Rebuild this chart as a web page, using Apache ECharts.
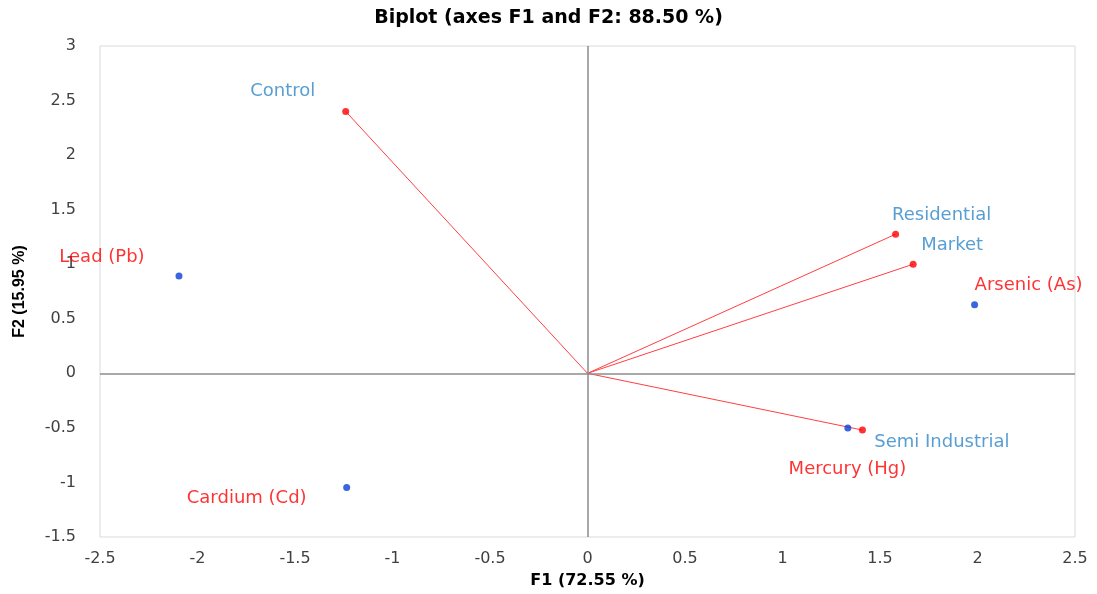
<!DOCTYPE html>
<html>
<head>
<meta charset="utf-8">
<script src="https://cdn.jsdelivr.net/npm/echarts@6/dist/echarts.min.js"></script>
<style>
  html, body { margin: 0; padding: 0; background: #fff; }
  #main { width: 1097px; height: 594px; }
</style>
</head>
<body>
<div id="main"></div>
<script>
// red points (with vectors from origin)
var vecNames = ['Control', 'Residential', 'Market', 'Mercury (Hg)'];
var vecX = [-1.24, 1.58, 1.67, 1.41];
var vecY = [2.40, 1.275, 1.00, -0.52];
var vecLabelColor = ['blue', 'blue', 'blue', 'red'];

// blue points
var obsNames = ['Lead (Pb)', 'Cardium (Cd)', 'Arsenic (As)', 'Semi Industrial'];
var obsX = [-2.095, -1.235, 1.985, 1.335];
var obsY = [0.893, -1.047, 0.628, -0.50];
var obsLabelColor = ['red', 'red', 'red', 'blue'];

// label offsets (px) from their point
var vecOffsets = [[-63, -20], [46, -19], [39, -19], [-15, 39]];
var obsOffsets = [[-77, -19], [-100, 11], [54, -19], [94, 14]];

var colors = { red: '#ff0000', blue: '#2e86c8' };
var labelFont = 'DejaVu Sans';

let myChart = echarts.init(document.getElementById('main'));

function pointData(xs, ys, names, offs, lc) {
  return xs.map(function (x, i) {
    return {
      name: names[i],
      value: [x, ys[i]],
      label: {
        show: true,
        position: 'inside',
        offset: offs[i],
        formatter: names[i],
        color: colors[lc[i]],
        fontFamily: labelFont,
        fontSize: 18
      }
    };
  });
}

var series = [];
vecX.forEach(function (x, i) {
  series.push({
    type: 'line',
    data: [[0, 0], [x, vecY[i]]],
    showSymbol: false,
    silent: true,
    lineStyle: { color: '#ff4040', width: 1 },
    z: 3
  });
});

series.push({
  type: 'scatter',
  name: 'vectors',
  symbolSize: 7,
  itemStyle: { color: '#ff0000' },
  data: pointData(vecX, vecY, vecNames, vecOffsets, vecLabelColor),
  z: 5,
  markLine: {
    silent: true,
    symbol: 'none',
    label: { show: false },
    lineStyle: { color: '#8c8c8c', width: 1.5, type: 'solid' },
    data: [{ xAxis: 0 }, { yAxis: 0 }]
  }
});

series.push({
  type: 'scatter',
  name: 'obs',
  symbolSize: 7,
  itemStyle: { color: '#0a3fd8' },
  data: pointData(obsX, obsY, obsNames, obsOffsets, obsLabelColor),
  z: 5
});

var option = {
  animation: false,
  backgroundColor: '#fff',
  title: {
    text: 'Biplot (axes F1 and F2: 88.50 %)',
    left: 'center',
    top: 4,
    textStyle: { fontFamily: 'DejaVu Sans', fontWeight: 'bold', fontSize: 19, color: '#000' }
  },
  grid: {
    left: 100,
    right: 22,
    top: 46,
    bottom: 54,
    show: true,
    borderColor: '#d9d9d9',
    borderWidth: 1
  },
  xAxis: {
    type: 'value',
    min: -2.5,
    max: 2.5,
    interval: 0.5,
    name: 'F1 (72.55 %)',
    nameLocation: 'middle',
    nameGap: 36,
    nameTextStyle: { fontFamily: 'DejaVu Sans', fontWeight: 'bold', fontSize: 16, color: '#000' },
    axisLine: { show: false, onZero: false },
    axisTick: { show: false },
    splitLine: { show: false },
    axisLabel: { fontFamily: 'DejaVu Sans', fontSize: 16, color: '#404040', margin: 14 }
  },
  yAxis: {
    type: 'value',
    min: -1.5,
    max: 3,
    interval: 0.5,
    name: 'F2 (15.95 %)',
    nameLocation: 'middle',
    nameGap: 72,
    nameTextStyle: { fontFamily: 'Liberation Sans', fontWeight: 'bold', fontSize: 16, color: '#000' },
    axisLine: { show: false, onZero: false },
    axisTick: { show: false },
    splitLine: { show: false },
    axisLabel: { fontFamily: 'DejaVu Sans', fontSize: 16, color: '#404040', margin: 24 }
  },
  series: series
};

myChart.setOption(option, true);
</script>
</body>
</html>
